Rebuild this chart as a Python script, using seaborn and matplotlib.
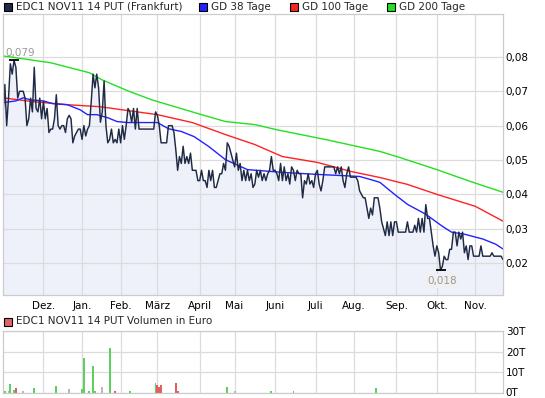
import numpy as np
import pandas as pd
import seaborn as sns
import matplotlib.pyplot as plt
from matplotlib.patches import Rectangle
from matplotlib.ticker import FuncFormatter


# Frankfurt trading calendar covered by the chart
START, END = '2010-11-01', '2011-11-22'
HOLIDAYS = ['2010-12-24', '2010-12-31', '2011-04-22', '2011-04-25']

month_labels = ['Dez.', 'Jan.', 'Feb.', 'März', 'April', 'Mai',
                'Juni', 'Juli', 'Aug.', 'Sep.', 'Okt.', 'Nov.']

# daily close, one value per trading day
price = [
    0.063, 0.072, 0.060, 0.068, 0.078, 0.075, 0.079, 0.077, 0.068, 0.070,
    0.070, 0.070, 0.068, 0.060, 0.062, 0.068, 0.064, 0.077, 0.065, 0.064,
    0.068, 0.062, 0.067, 0.062, 0.065, 0.058, 0.059, 0.059, 0.062, 0.069,
    0.060, 0.059, 0.060, 0.060, 0.058, 0.062, 0.063, 0.062, 0.055, 0.057,
    0.058, 0.059, 0.059, 0.056, 0.060, 0.057, 0.059, 0.060, 0.067, 0.075,
    0.071, 0.075, 0.071, 0.061, 0.064, 0.073, 0.060, 0.055, 0.056, 0.059,
    0.055, 0.056, 0.055, 0.059, 0.055, 0.060, 0.056, 0.060, 0.065, 0.064,
    0.061, 0.065, 0.059, 0.065, 0.059, 0.059, 0.059, 0.059, 0.059, 0.059,
    0.059, 0.059, 0.059, 0.064, 0.063, 0.060, 0.055, 0.055, 0.055, 0.055,
    0.060, 0.060, 0.060, 0.058, 0.053, 0.047, 0.051, 0.049, 0.054, 0.049,
    0.051, 0.049, 0.052, 0.047, 0.047, 0.047, 0.044, 0.044, 0.047, 0.044,
    0.044, 0.042, 0.047, 0.044, 0.047, 0.042, 0.042, 0.044, 0.046, 0.046,
    0.049, 0.047, 0.055, 0.054, 0.052, 0.050, 0.048, 0.052, 0.047, 0.049,
    0.044, 0.047, 0.044, 0.047, 0.044, 0.046, 0.042, 0.043, 0.047, 0.045,
    0.047, 0.044, 0.046, 0.044, 0.046, 0.047, 0.051, 0.047, 0.047, 0.046,
    0.044, 0.049, 0.044, 0.048, 0.044, 0.046, 0.043, 0.048, 0.047, 0.044,
    0.047, 0.046, 0.046, 0.039, 0.044, 0.043, 0.046, 0.043, 0.044, 0.042,
    0.046, 0.047, 0.043, 0.041, 0.044, 0.048, 0.048, 0.048, 0.048, 0.048,
    0.048, 0.046, 0.048, 0.046, 0.048, 0.044, 0.042, 0.046, 0.048, 0.045,
    0.045, 0.045, 0.045, 0.044, 0.041, 0.040, 0.039, 0.039, 0.036, 0.033,
    0.036, 0.034, 0.039, 0.039, 0.039, 0.036, 0.032, 0.030, 0.028, 0.032,
    0.028, 0.032, 0.028, 0.032, 0.032, 0.029, 0.029, 0.029, 0.029, 0.029,
    0.032, 0.029, 0.029, 0.029, 0.031, 0.029, 0.033, 0.029, 0.033, 0.029,
    0.037, 0.033, 0.033, 0.029, 0.025, 0.022, 0.025, 0.023, 0.018, 0.019,
    0.022, 0.021, 0.021, 0.024, 0.024, 0.029, 0.029, 0.025, 0.029, 0.027,
    0.029, 0.023, 0.025, 0.021, 0.025, 0.025, 0.022, 0.022, 0.022, 0.022,
    0.025, 0.022, 0.022, 0.022, 0.022, 0.022, 0.023, 0.022, 0.022, 0.022,
    0.022, 0.022, 0.021,
]

# moving averages, read at trading-day offsets
gd38_day = [0, 7, 11, 15, 22, 27, 35, 42, 46, 51, 57, 62, 68, 76, 84, 90, 97,
            104, 112, 121, 128, 133, 152, 171, 183, 194, 200, 205, 213, 220,
            230, 239, 244, 251, 261, 268, 272]
gd38 = [0.0667, 0.0672, 0.0681, 0.0675, 0.0672, 0.0664, 0.0661, 0.0646,
        0.0632, 0.0632, 0.0623, 0.0612, 0.0609, 0.0609, 0.0609, 0.0591,
        0.0583, 0.0568, 0.0539, 0.0501, 0.0484, 0.0472, 0.0464, 0.0458,
        0.0455, 0.0452, 0.0443, 0.0435, 0.0400, 0.0371, 0.0342, 0.0307,
        0.0290, 0.0284, 0.0270, 0.0255, 0.0241]

gd100_day = [0, 16, 35, 53, 69, 84, 103, 121, 137, 152, 171, 189, 205, 220,
             236, 257, 272]
gd100 = [0.0681, 0.0670, 0.0661, 0.0655, 0.0643, 0.0632, 0.0609, 0.0574,
         0.0545, 0.0510, 0.0493, 0.0467, 0.0449, 0.0429, 0.0400, 0.0365,
         0.0322]

gd200_day = [0, 26, 47, 54, 69, 81, 108, 121, 137, 149, 176, 205, 216, 236,
             254, 272]
gd200 = [0.0803, 0.0783, 0.0754, 0.0733, 0.0699, 0.0675, 0.0632, 0.0612,
         0.0603, 0.0588, 0.0559, 0.0525, 0.0507, 0.0472, 0.0438, 0.0406]

# turnover in euro on the days with trades
vol_day = [1, 3, 4, 6, 7, 11, 17, 29, 36, 43, 44, 47, 49, 50, 54, 58, 61, 69,
           83, 84, 85, 86, 94, 95, 122, 126, 146, 158, 203]
vol = [700, 800, 4200, 1200, 2000, 500, 2000, 3000, 1500, 1500, 16800, 800,
       12700, 500, 2500, 21900, 500, 800, 4600, 3600, 2500, 3700, 4600, 500,
       2500, 500, 800, 500, 2000]
vol_dir = ['up', 'flat', 'up', 'up', 'down', 'flat', 'up', 'up', 'flat', 'up',
           'up', 'up', 'up', 'up', 'flat', 'up', 'down', 'up', 'up', 'down',
           'down', 'down', 'down', 'down', 'up', 'flat', 'up', 'up', 'up']

price_ticks = [0.02, 0.03, 0.04, 0.05, 0.06, 0.07, 0.08]
vol_ticks = [0, 10000, 20000, 30000]

PRICE_COLOR = '#1f2a44'
MA_COLORS = {'GD 38 Tage': '#2222ff', 'GD 100 Tage': '#ff2222',
             'GD 200 Tage': '#22e022'}
VOL_COLORS = {'up': '#5fcf5f', 'down': '#e06060', 'flat': '#b8b8b8'}
GRID = '#dcdcdc'

sns.set_style('white')
plt.rcParams['font.family'] = ['DejaVu Sans']
plt.rcParams['font.size'] = 7

days = pd.bdate_range(START, END, freq='C', holidays=HOLIDAYS)
months = days.month.values
month_starts = np.flatnonzero(months[1:] != months[:-1]) + 1
x = np.arange(len(price))

W, H = 545, 398
fig = plt.figure(figsize=(W / 100, H / 100), dpi=100)
ax = fig.add_axes([3 / W, 1 - 295 / H, 500 / W, 281 / H])
axv = fig.add_axes([3 / W, 1 - 392.5 / H, 500 / W, 61.5 / H])

ylo, yhi = 0.0107, 0.0925
ax.fill_between(x, price, ylo, color='#eef1fa', lw=0, zorder=0.1)

sns.lineplot(x=gd200_day, y=gd200, ax=ax, color=MA_COLORS['GD 200 Tage'], lw=1)
sns.lineplot(x=gd100_day, y=gd100, ax=ax, color=MA_COLORS['GD 100 Tage'], lw=1)
sns.lineplot(x=gd38_day, y=gd38, ax=ax, color=MA_COLORS['GD 38 Tage'], lw=1)
sns.lineplot(x=x, y=price, ax=ax, color=PRICE_COLOR, lw=1.05)

def comma(v, digits):
    return f'{v:.{digits}f}'.replace('.', ',')

imax, imin = int(np.argmax(price)), int(np.argmin(price))
ax.plot([imax, imin], [price[imax], price[imin]], ls='none', marker='_',
        ms=7, mew=1.3, color='black', zorder=5)
ax.annotate(comma(price[imax], 3), (imax, price[imax]), xytext=(-6, 5),
            textcoords='offset points', ha='left', va='center',
            color='#999999', fontsize=7.5)
ax.annotate(comma(price[imin], 3), (imin, price[imin]), xytext=(1, -8),
            textcoords='offset points', ha='center', va='center',
            color='#999999', fontsize=7.5,
            bbox=dict(boxstyle='square,pad=0.15', fc='#f0f0f0', ec='none'))

ax.set_xlim(0, len(price) - 1)
ax.set_ylim(ylo, yhi)
ax.set_yticks(price_ticks)
ax.yaxis.set_major_formatter(FuncFormatter(lambda v, p: comma(v, 2)))
ax.set_xticks(month_starts)
ax.set_xticklabels(month_labels)

# volume panel
axv.bar(vol_day, vol, width=1.0, color=[VOL_COLORS[d] for d in vol_dir],
        lw=0, zorder=2)
axv.set_xlim(0, len(price) - 1)
axv.set_ylim(vol_ticks[0], vol_ticks[-1])
axv.set_yticks(vol_ticks)
axv.yaxis.set_major_formatter(FuncFormatter(lambda v, p: f'{v / 1000:.0f}T'))
axv.set_xticks(month_starts)
axv.set_xticklabels([])

for a in (ax, axv):
    a.set_xlabel('')
    a.set_ylabel('')
    a.set_axisbelow(True)
    a.grid(True, color=GRID, lw=0.9)
    a.yaxis.tick_right()
    a.tick_params(length=0, labelsize=7.5, colors='black')
    a.tick_params(axis='y', pad=2)
    a.tick_params(axis='x', pad=4)
    for s in a.spines.values():
        s.set_color('#cccccc')
        s.set_linewidth(0.9)

# legend rows drawn as squares and labels in figure pixels
def legend_item(px, py, label, color):
    fig.patches.append(Rectangle((px / W, 1 - (py + 4) / H), 8 / W, 8 / H,
                                 transform=fig.transFigure, fc=color,
                                 ec='black', lw=0.8))
    fig.text((px + 12) / W, 1 - py / H, label, ha='left', va='center',
             fontsize=7.5)

legend_item(3.5, 6.5, 'EDC1 NOV11 14 PUT (Frankfurt)', PRICE_COLOR)
for px, name in zip([198.7, 290, 387.3], MA_COLORS):
    legend_item(px, 6.5, name, MA_COLORS[name])
legend_item(3.5, 321.5, 'EDC1 NOV11 14 PUT Volumen in Euro', '#e06666')

fig.savefig('out.png', dpi=100)
